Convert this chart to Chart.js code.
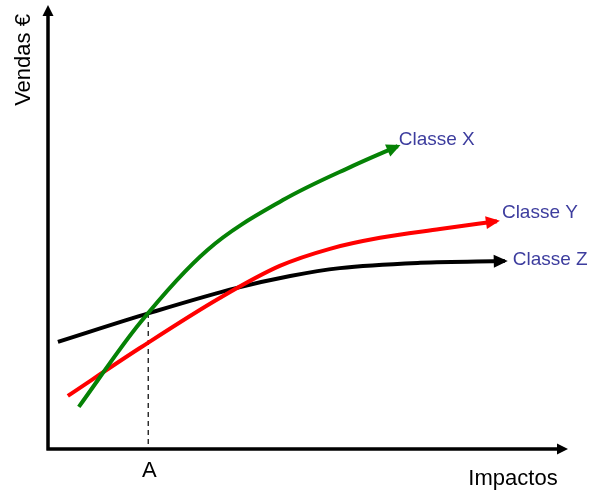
<!DOCTYPE html>
<html lang="pt">
<head>
<meta charset="UTF-8">
<title>Vendas vs Impactos</title>
<script src="https://cdn.jsdelivr.net/npm/chart.js"></script>
<style>
    body { margin: 0; background: #fff; }
    canvas { display: block; }
</style>
</head>
<body>
<canvas id="grafico" width="592" height="492"></canvas>
<script>
// valores (escala 0-100 em cada eixo)
const impactosX = [5.9, 17.6, 30.5, 45.0, 58.4, 67.0];
const vendasX   = [9.6, 28.7, 45.3, 56.7, 64.5, 69.0];

const impactosY = [3.8, 17.6, 32.9, 44.4, 54.0, 63.6, 75.1, 86.0];
const vendasY   = [12.1, 23.0, 34.4, 41.7, 45.6, 48.1, 50.1, 51.9];

const impactosZ = [1.9, 19.5, 36.2, 46.4, 55.9, 71.3, 87.5];
const vendasZ   = [24.4, 31.0, 36.7, 39.4, 41.2, 42.4, 42.8];

const classes = ['Classe X', 'Classe Y', 'Classe Z'];
const pontoA = 19.2;
const vendasA = 31.0;

const fonte = "'Liberation Sans', Arial, Helvetica, sans-serif";

function pontos(xs, ys) {
    return xs.map((x, i) => ({ x: x, y: ys[i] }));
}

function seta(ctx, x, y, ang, comp, larg, cor) {
    ctx.save();
    ctx.translate(x, y);
    ctx.rotate(ang);
    ctx.fillStyle = cor;
    ctx.beginPath();
    ctx.moveTo(0, 0);
    ctx.lineTo(-comp, -larg);
    ctx.lineTo(-comp, larg);
    ctx.closePath();
    ctx.fill();
    ctx.restore();
}

// eixos com setas, pontas das curvas e textos
const setasPlugin = {
    id: 'setas',
    afterDatasetsDraw(chart, args, opts) {
        const ctx = chart.ctx;
        const a = chart.chartArea;

        ctx.save();
        ctx.strokeStyle = '#000';
        ctx.lineWidth = 3.5;
        ctx.beginPath();
        ctx.moveTo(a.left, a.bottom + 1.5);
        ctx.lineTo(a.left, a.top + 2);
        ctx.moveTo(a.left - 1.5, a.bottom);
        ctx.lineTo(a.right - 8, a.bottom);
        ctx.stroke();
        seta(ctx, a.left, a.top - 5, -Math.PI / 2, 11, 5.5, '#000');
        seta(ctx, a.right - 2, a.bottom, 0, 11, 5.5, '#000');

        // pontas das curvas + rotulos
        ctx.font = '19px ' + fonte;
        ctx.textBaseline = 'alphabetic';
        ctx.textAlign = 'left';
        opts.rotulos.forEach((r, i) => {
            const meta = chart.getDatasetMeta(i);
            const n = meta.data.length;
            const p1 = meta.data[n - 2], p2 = meta.data[n - 1];
            const ang = Math.atan2(p2.y - p1.y, p2.x - p1.x);
            const cor = chart.data.datasets[i].borderColor;
            seta(ctx, p2.x + 3 * Math.cos(ang), p2.y + 3 * Math.sin(ang), ang, 14, 6.5, cor);
            ctx.fillStyle = '#3d3d9e';
            ctx.fillText(classes[i], p2.x + r.dx, p2.y + r.dy);
        });

        // textos dos eixos
        ctx.fillStyle = '#000';
        ctx.font = '22px ' + fonte;
        ctx.textAlign = 'center';
        ctx.fillText('A', chart.scales.x.getPixelForValue(pontoA) + 1, 477);
        ctx.fillText('Impactos', 513, 485);
        ctx.translate(30, 60);
        ctx.rotate(-Math.PI / 2);
        ctx.fillText('Vendas €', 0, 0);
        ctx.restore();
    }
};

new Chart(document.getElementById('grafico'), {
    type: 'line',
    data: {
        datasets: [
            {
                label: classes[0],
                data: pontos(impactosX, vendasX),
                borderColor: '#058205',
                borderWidth: 4,
                cubicInterpolationMode: 'monotone',
                pointRadius: 0
            },
            {
                label: classes[1],
                data: pontos(impactosY, vendasY),
                borderColor: '#ff0000',
                borderWidth: 4,
                cubicInterpolationMode: 'monotone',
                pointRadius: 0
            },
            {
                label: classes[2],
                data: pontos(impactosZ, vendasZ),
                borderColor: '#000000',
                borderWidth: 4,
                cubicInterpolationMode: 'monotone',
                pointRadius: 0
            },
            {
                label: 'A',
                data: [{ x: pontoA, y: vendasA }, { x: pontoA, y: 0 }],
                borderColor: '#000000',
                borderWidth: 1.2,
                borderDash: [5, 4],
                pointRadius: 0
            }
        ]
    },
    options: {
        responsive: false,
        animation: false,
        layout: { padding: { left: 48, right: 22, top: 10, bottom: 43 } },
        scales: {
            x: { type: 'linear', min: 0, max: 100, display: false },
            y: { type: 'linear', min: 0, max: 100, display: false }
        },
        plugins: {
            legend: { display: false },
            tooltip: { enabled: false },
            setas: {
                rotulos: [
                    { dx: 1, dy: -1 },
                    { dx: 5, dy: -3 },
                    { dx: 8, dy: 4 }
                ]
            }
        }
    },
    plugins: [setasPlugin]
});
</script>
</body>
</html>
